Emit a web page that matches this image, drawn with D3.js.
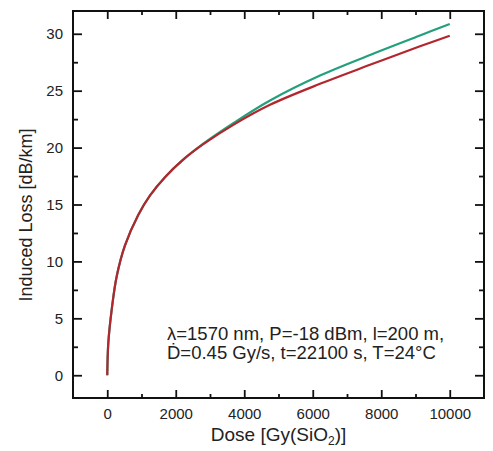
<!DOCTYPE html>
<html>
<head>
<meta charset="utf-8">
<script src="https://cdn.jsdelivr.net/npm/d3@7"></script>
<style>
  body { margin: 0; background: #fff; }
  text { font-family: "Liberation Sans", Arial, sans-serif; fill: #222; }
</style>
</head>
<body>
<div id="chart"></div>
<script>
// values
const dose = [0, 31, 129, 275, 518, 908, 1250, 1686, 2200, 2805, 3681, 4752, 6212, 7672, 9131, 10000];
const lossGreen = [0, 2.84, 5.75, 8.67, 11.4, 14.1, 15.8, 17.4, 18.9, 20.35, 22.15, 24.14, 26.33, 28.14, 29.85, 30.86];
const lossRed = [0, 2.84, 5.75, 8.67, 11.4, 14.1, 15.8, 17.4, 18.9, 20.3, 22.0, 23.76, 25.6, 27.27, 28.9, 29.83];

const xMajor = [0, 2000, 4000, 6000, 8000, 10000];
const xMinor = [1000, 3000, 5000, 7000, 9000];
const yMajor = [0, 5, 10, 15, 20, 25, 30];
const yMinor = [2.5, 7.5, 12.5, 17.5, 22.5, 27.5];

const note1 = 'λ=1570 nm, P=-18 dBm, l=200 m,';
const note2 = 'Ḋ=0.45 Gy/s, t=22100 s, T=24°C';

const vis = {};
vis.margin = { left: 73, right: 9, top: 11, bottom: 53 };
vis.width = 493 - vis.margin.left - vis.margin.right;
vis.height = 451 - vis.margin.top - vis.margin.bottom;

vis.svg = d3.select('#chart')
  .append('svg')
  .attr('width', 493)
  .attr('height', 451);

vis.g = vis.svg.append('g')
  .attr('transform', 'translate(' + vis.margin.left + ', ' + vis.margin.top + ')');

vis.x = d3.scaleLinear().domain([-1000, 11000]).range([0, vis.width]);
vis.y = d3.scaleLinear().domain([-2, 32]).range([vis.height, 0]);

function styleAxis(sel) {
  sel.select('.domain').remove();
  sel.selectAll('line').attr('stroke', '#111').attr('stroke-width', 1.8);
  sel.selectAll('text').attr('font-size', '15px').style('fill', '#222');
}

// bottom
vis.g.append('g')
  .attr('transform', 'translate(0, ' + vis.height + ')')
  .call(d3.axisBottom(vis.x).tickValues(xMajor).tickSize(-8).tickPadding(10).tickFormat(d3.format('d')))
  .call(styleAxis);
vis.g.append('g')
  .attr('transform', 'translate(0, ' + vis.height + ')')
  .call(d3.axisBottom(vis.x).tickValues(xMinor).tickSize(-4).tickFormat(''))
  .call(styleAxis);
// top
vis.g.append('g')
  .call(d3.axisTop(vis.x).tickValues(xMajor).tickSize(-8).tickFormat(''))
  .call(styleAxis);
vis.g.append('g')
  .call(d3.axisTop(vis.x).tickValues(xMinor).tickSize(-4).tickFormat(''))
  .call(styleAxis);
// left
vis.g.append('g')
  .call(d3.axisLeft(vis.y).tickValues(yMajor).tickSize(-9).tickPadding(10).tickFormat(d3.format('d')))
  .call(styleAxis);
vis.g.append('g')
  .call(d3.axisLeft(vis.y).tickValues(yMinor).tickSize(-5).tickFormat(''))
  .call(styleAxis);
// right
vis.g.append('g')
  .attr('transform', 'translate(' + vis.width + ', 0)')
  .call(d3.axisRight(vis.y).tickValues(yMajor).tickSize(-9).tickFormat(''))
  .call(styleAxis);
vis.g.append('g')
  .attr('transform', 'translate(' + vis.width + ', 0)')
  .call(d3.axisRight(vis.y).tickValues(yMinor).tickSize(-5).tickFormat(''))
  .call(styleAxis);

vis.g.append('rect')
  .attr('width', vis.width)
  .attr('height', vis.height)
  .attr('fill', 'none')
  .attr('stroke', '#111')
  .attr('stroke-width', 2);

const line = d3.line()
  .x((d, i) => vis.x(dose[i]))
  .y(d => vis.y(d))
  .curve(d3.curveCatmullRom.alpha(0.5));

vis.g.append('path')
  .datum(lossGreen)
  .attr('fill', 'none')
  .attr('stroke', '#22a07c')
  .attr('stroke-width', 2.2)
  .attr('d', line);

vis.g.append('path')
  .datum(lossRed)
  .attr('fill', 'none')
  .attr('stroke', '#b3262e')
  .attr('stroke-width', 2.2)
  .attr('d', line);

// annotation
vis.svg.append('text')
  .attr('x', 167).attr('y', 340)
  .attr('font-size', '18.5px')
  .text(note1);
vis.svg.append('text')
  .attr('x', 167).attr('y', 359)
  .attr('font-size', '18.5px')
  .text(note2);

// axis titles
const xTitle = vis.svg.append('text')
  .attr('x', vis.margin.left + vis.width / 2).attr('y', 441)
  .attr('text-anchor', 'middle')
  .attr('font-size', '19px');
xTitle.append('tspan').text('Dose [Gy(SiO');
xTitle.append('tspan').attr('font-size', '12px').attr('dy', 4).text('2');
xTitle.append('tspan').attr('dy', -4).text(')]');

vis.svg.append('text')
  .attr('transform', 'translate(32, 215) rotate(-90)')
  .attr('text-anchor', 'middle')
  .attr('font-size', '18px')
  .text('Induced Loss [dB/km]');
</script>
</body>
</html>
